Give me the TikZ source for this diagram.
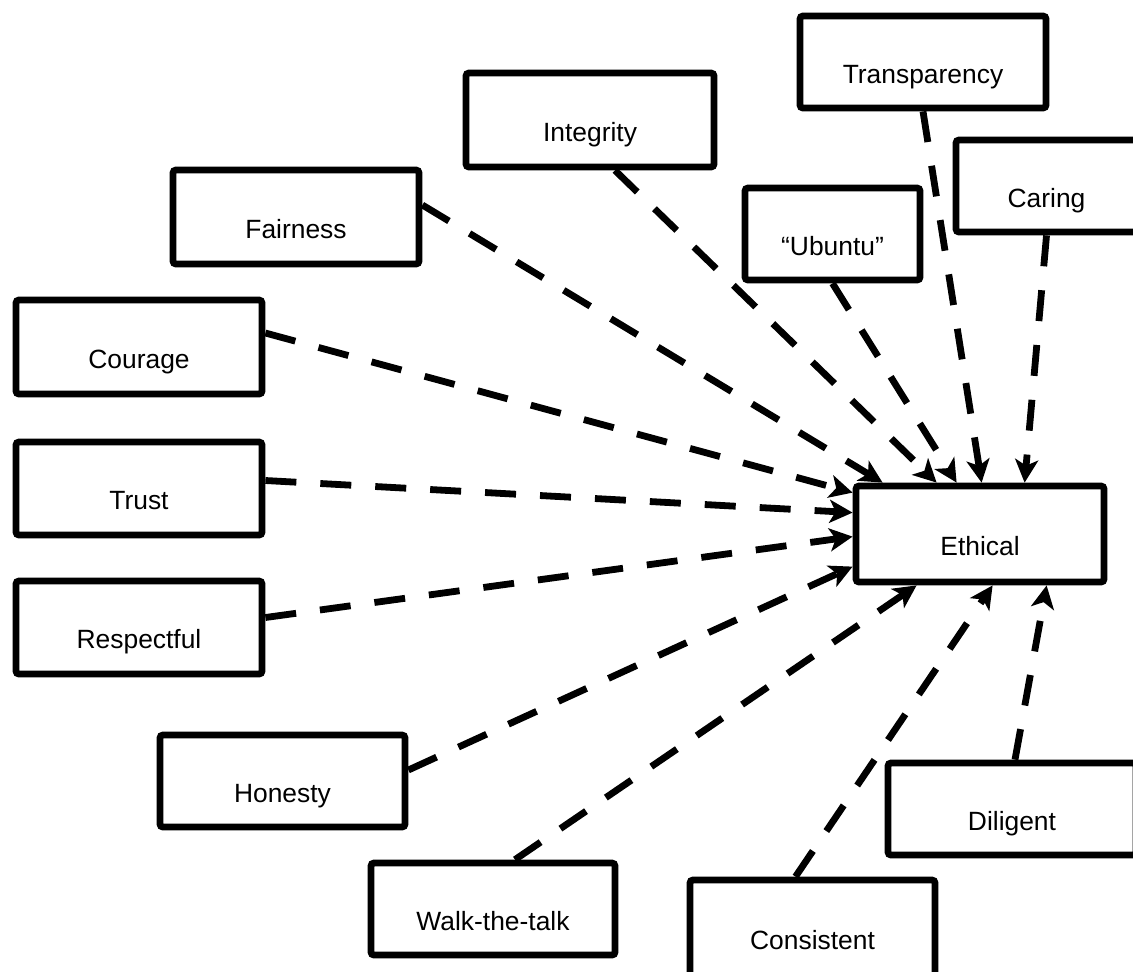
\documentclass[tikz,border=0pt]{standalone}
\usepackage{fontspec}
\setmainfont{Liberation Sans}
\usetikzlibrary{arrows.meta,calc}
\begin{document}
\begin{tikzpicture}[x=0.5pt,y=-0.5pt,
  box/.style={draw, line width=3.4pt, rounded corners=1.5pt, inner sep=0pt,
    text height=21pt, text depth=0pt, font=\fontsize{13.2pt}{15pt}\selectfont},
  link/.style={line width=3.4pt, dash pattern=on 15.5pt off 12pt,
    -{Stealth[length=11.5pt,width=11.5pt,inset=3pt]}}]
\useasboundingbox (0,0) rectangle (1133,971);
\clip (0,0) rectangle (1133,971);

% value boxes
\node[box, minimum width=123pt, minimum height=46pt] (trans) at (923,62) {Transparency};
\node[box, minimum width=124pt, minimum height=47pt] (integ) at (590,120) {Integrity};
\node[box, minimum width=90.5pt, minimum height=46pt] (caring) at (1046.5,186) {Caring};
\node[box, minimum width=87.5pt, minimum height=46pt] (ubuntu) at (832.5,234) {``Ubuntu''};
\node[box, minimum width=123pt, minimum height=47pt] (fair) at (296,217) {Fairness};
\node[box, minimum width=123pt, minimum height=47pt] (courage) at (139,347) {Courage};
\node[box, minimum width=123pt, minimum height=46.5pt] (trust) at (139,488.5) {Trust};
\node[box, minimum width=123pt, minimum height=46.5pt] (respect) at (139,627.5) {Respectful};
\node[box, minimum width=122.5pt, minimum height=46pt] (honesty) at (282.5,781) {Honesty};
\node[box, minimum width=122pt, minimum height=46pt] (walk) at (493,909) {Walk-the-talk};
\node[box, minimum width=122.5pt, minimum height=48pt] (consist) at (812.5,928) {Consistent};
\node[box, minimum width=124pt, minimum height=46pt] (dilig) at (1012,809) {Diligent};

% central box
\node[box, minimum width=124pt, minimum height=48pt] (eth) at (980,534) {Ethical};

% connectors into the top edge
\draw[link] ($(fair.east)+(0,-12)$) -- ($(eth.north west)+(30,0)$);
\draw[link] ($(integ.south)+(25,0)$) -- ($(eth.north west)+(84,0)$);
\draw[link] (ubuntu.south) -- ($(eth.north west)+(104,0)$);
\draw[link] (trans.south) -- ($(eth.north west)+(129,0)$);
\draw[link] (caring.south) -- ($(eth.north west)+(172,0)$);

% connectors into the left edge
\draw[link] ($(courage.east)+(0,-14)$) -- ($(eth.north west)+(0,10)$);
\draw[link] ($(trust.east)+(0,-8)$) -- ($(eth.north west)+(0,30)$);
\draw[link] ($(respect.east)+(0,-10)$) -- ($(eth.north west)+(0,54)$);
\draw[link] ($(honesty.east)+(0,-11)$) -- ($(eth.north west)+(0,84)$);

% connectors into the bottom edge
\draw[link] ($(walk.north)+(22,0)$) -- ($(eth.south west)+(64,0)$);
\draw[link] ($(consist.north)+(-17,0)$) -- ($(eth.south west)+(140,0)$);
\draw[link] ($(dilig.north)+(3,0)$) -- ($(eth.south west)+(194,0)$);
\end{tikzpicture}
\end{document}
